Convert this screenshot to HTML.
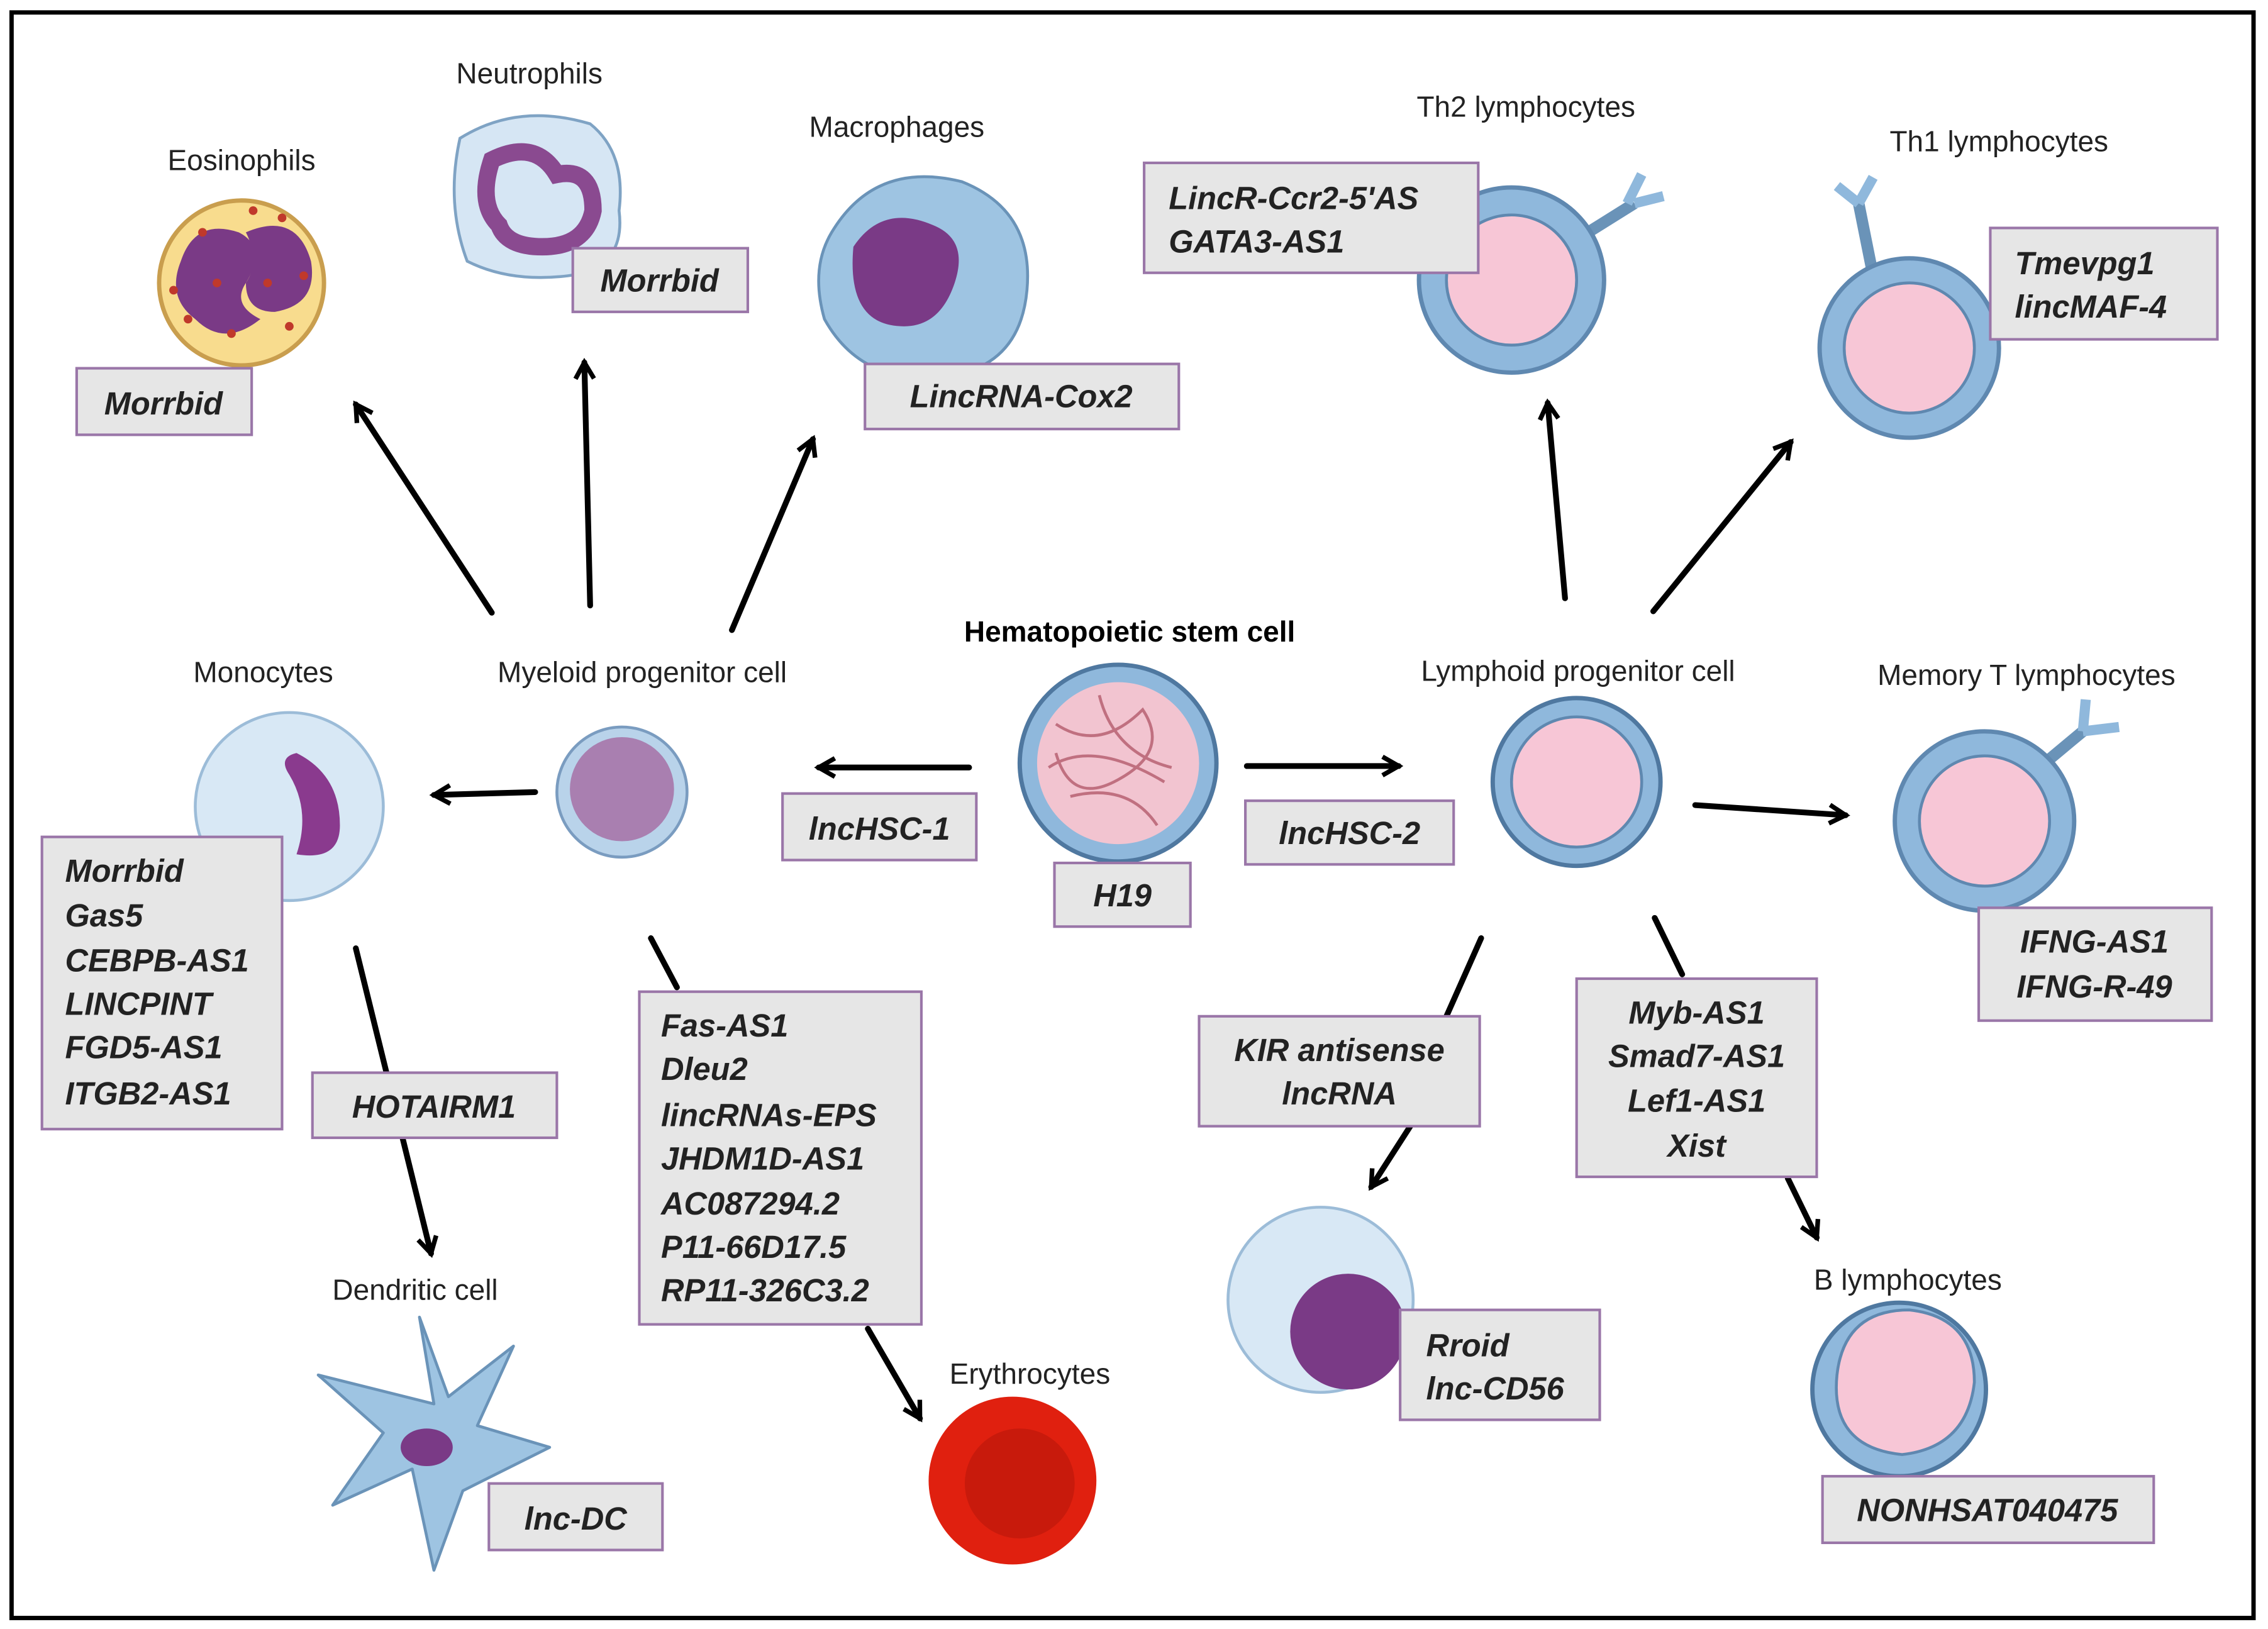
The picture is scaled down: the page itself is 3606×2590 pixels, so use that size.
<!DOCTYPE html>
<html><head><meta charset="utf-8"><style>
html,body{margin:0;padding:0;background:#fff}
svg{display:block}
.l{font-family:"Liberation Sans",sans-serif;font-size:20px;fill:#222;text-anchor:middle}
.b{font-family:"Liberation Sans",sans-serif;font-size:22px;font-weight:bold;font-style:italic;fill:#222}
.bx{fill:#e6e6e6;stroke:#9a76a8;stroke-width:1.8}
.ar{stroke:#000;stroke-width:4;fill:none;stroke-linecap:round}
</style></head><body>
<svg width="3606" height="2590" viewBox="0 0 1568 1125" xmlns="http://www.w3.org/2000/svg">
<defs>
<marker id="m" viewBox="0 0 10 10" refX="8" refY="5" markerWidth="4" markerHeight="4" orient="auto" markerUnits="strokeWidth">
<path d="M1,1 L8,5 L1,9" fill="none" stroke="#000" stroke-width="2"/></marker>
</defs>
<rect x="0" y="0" width="1568" height="1125" fill="#fff"/>
<rect x="8" y="8" width="1550" height="1110" fill="none" stroke="#000" stroke-width="3"/>

<!-- cells -->
<!-- eosinophil -->
<circle cx="167" cy="195" r="57" fill="#f8dc8e" stroke="#c99e4e" stroke-width="3"/>
<path d="M125,180 q10,-30 40,-20 q20,10 5,35 q-10,15 10,25 q-25,20 -45,0 q-20,-15 -10,-40z" fill="#7a3a86"/>
<path d="M170,160 q35,-15 45,20 q5,30 -25,35 q-20,0 -20,-20 q10,-15 0,-35z" fill="#7a3a86"/>
<g fill="#c0392b"><circle cx="140" cy="160" r="3"/><circle cx="195" cy="150" r="3"/><circle cx="130" cy="220" r="3"/><circle cx="160" cy="230" r="3"/><circle cx="200" cy="225" r="3"/><circle cx="185" cy="195" r="3"/><circle cx="150" cy="195" r="3"/><circle cx="120" cy="200" r="3"/><circle cx="210" cy="190" r="3"/><circle cx="175" cy="145" r="3"/></g>
<!-- neutrophil -->
<path d="M318,95 q40,-25 90,-10 q25,20 20,60 q5,40 -35,45 q-40,5 -70,-10 q-15,-40 -5,-85z" fill="#d6e6f4" stroke="#7fa3c4" stroke-width="2"/>
<path d="M340,110 q30,-15 45,10 q25,-5 25,25 q-5,25 -35,25 q-25,0 -30,-15 q-15,-15 -5,-45z" fill="none" stroke="#8a4a90" stroke-width="12" stroke-linecap="round"/>
<!-- macrophage -->
<path d="M575,160 q30,-50 90,-35 q50,20 45,75 q-5,55 -60,60 q-55,5 -80,-40 q-10,-35 5,-60z" fill="#9ec4e2" stroke="#6a93b8" stroke-width="2"/>
<path d="M590,170 q20,-30 55,-15 q25,10 15,40 q-10,30 -35,30 q-40,0 -35,-55z" fill="#7a3a86"/>
<!-- Th2 -->
<line x1="1090" y1="165" x2="1130" y2="140" stroke="#6a93b8" stroke-width="8"/>
<path d="M1125,140 l10,-20 M1130,140 l20,-5" stroke="#8fb8dc" stroke-width="7"/>
<circle cx="1045" cy="193" r="64" fill="#8fb8dc" stroke="#5f88b0" stroke-width="3"/>
<circle cx="1045" cy="193" r="45" fill="#f7c6d6" stroke="#5f88b0" stroke-width="2"/>
<!-- Th1 -->
<line x1="1295" y1="190" x2="1285" y2="140" stroke="#6a93b8" stroke-width="8"/>
<path d="M1285,140 l-15,-12 M1285,140 l10,-18" stroke="#8fb8dc" stroke-width="7"/>
<circle cx="1320" cy="240" r="62" fill="#8fb8dc" stroke="#5f88b0" stroke-width="3"/>
<circle cx="1320" cy="240" r="45" fill="#f7c6d6" stroke="#5f88b0" stroke-width="2"/>
<!-- Monocyte -->
<circle cx="200" cy="557" r="65" fill="#d8e8f5" stroke="#9cbcd8" stroke-width="2"/>
<path d="M205,520 q30,15 30,50 q0,25 -30,20 q10,-30 -5,-55 q-8,-12 5,-15z" fill="#8a3a8e"/>
<!-- myeloid -->
<circle cx="430" cy="547" r="45" fill="#b9d3ea" stroke="#7a9cc0" stroke-width="2"/>
<circle cx="430" cy="545" r="36" fill="#a97fb0"/>
<!-- HSC -->
<circle cx="773" cy="527" r="68" fill="#8fb8dc" stroke="#4f78a0" stroke-width="3"/>
<circle cx="773" cy="527" r="56" fill="#f2c4d0"/>
<path d="M730,500 q30,20 60,-10 q20,30 -20,50 q-30,15 -40,-20 M740,550 q40,-10 60,20 M760,480 q10,40 50,50 M725,530 q30,-20 80,10" stroke="#c07080" stroke-width="2" fill="none"/>
<!-- lymphoid -->
<circle cx="1090" cy="540" r="58" fill="#8fb8dc" stroke="#4f78a0" stroke-width="3"/>
<circle cx="1090" cy="540" r="45" fill="#f7c6d6" stroke="#5f88b0" stroke-width="2"/>
<!-- memory T -->
<line x1="1410" y1="530" x2="1440" y2="505" stroke="#6a93b8" stroke-width="8"/>
<path d="M1440,505 l2,-22 M1440,505 l25,-3" stroke="#8fb8dc" stroke-width="7"/>
<circle cx="1372" cy="567" r="62" fill="#8fb8dc" stroke="#5f88b0" stroke-width="3"/>
<circle cx="1372" cy="567" r="45" fill="#f7c6d6" stroke="#5f88b0" stroke-width="2"/>
<!-- dendritic -->
<path d="M300,970 L220,950 L265,990 L230,1040 L285,1015 L300,1085 L320,1030 L380,1000 L330,985 L355,930 L310,965 L290,910 Z" fill="#9ec4e2" stroke="#6a93b8" stroke-width="2" stroke-linejoin="round"/>
<ellipse cx="295" cy="1000" rx="18" ry="13" fill="#7a3a86"/>
<!-- erythrocyte -->
<circle cx="700" cy="1023" r="58" fill="#e0200f"/>
<circle cx="705" cy="1025" r="38" fill="#c81a0c"/>
<!-- NK -->
<circle cx="913" cy="898" r="64" fill="#d8e8f5" stroke="#9cbcd8" stroke-width="2"/>
<circle cx="932" cy="920" r="40" fill="#7a3a86"/>
<!-- B -->
<circle cx="1313" cy="960" r="60" fill="#8fb8dc" stroke="#4f78a0" stroke-width="3"/>
<path d="M1270,950 q5,-45 50,-45 q45,5 45,50 q-5,45 -50,50 q-50,-5 -45,-55z" fill="#f7c6d6" stroke="#5f88b0" stroke-width="2"/>

<!-- arrows -->
<line class="ar" x1="340" y1="423" x2="246" y2="279" marker-end="url(#m)"/>
<line class="ar" x1="408" y1="418" x2="404" y2="250" marker-end="url(#m)"/>
<line class="ar" x1="506" y1="435" x2="562" y2="303" marker-end="url(#m)"/>
<line class="ar" x1="670" y1="530" x2="566" y2="530" marker-end="url(#m)"/>
<line class="ar" x1="370" y1="547" x2="300" y2="549" marker-end="url(#m)"/>
<line class="ar" x1="862" y1="529" x2="967" y2="529" marker-end="url(#m)"/>
<line class="ar" x1="1082" y1="413" x2="1070" y2="278" marker-end="url(#m)"/>
<line class="ar" x1="1143" y1="422" x2="1238" y2="305" marker-end="url(#m)"/>
<line class="ar" x1="1172" y1="556" x2="1276" y2="563" marker-end="url(#m)"/>
<line class="ar" x1="246" y1="655" x2="298" y2="866" marker-end="url(#m)"/>
<line class="ar" x1="450" y1="648" x2="468" y2="682"/>
<line class="ar" x1="600" y1="918" x2="636" y2="980" marker-end="url(#m)"/>
<line class="ar" x1="1024" y1="648" x2="1000" y2="702"/>
<line class="ar" x1="975" y1="778" x2="948" y2="820" marker-end="url(#m)"/>
<line class="ar" x1="1144" y1="634" x2="1163" y2="673"/>
<line class="ar" x1="1236" y1="814" x2="1256" y2="855" marker-end="url(#m)"/>

<!-- labels -->
<text class="l" x="167" y="117">Eosinophils</text>
<text class="l" x="366" y="57">Neutrophils</text>
<text class="l" x="620" y="94">Macrophages</text>
<text class="l" x="1055" y="80">Th2 lymphocytes</text>
<text class="l" x="1382" y="104">Th1 lymphocytes</text>
<text class="l" x="182" y="471">Monocytes</text>
<text class="l" x="444" y="471">Myeloid progenitor cell</text>
<text class="l" x="781" y="443" style="font-weight:bold;fill:#000">Hematopoietic stem cell</text>
<text class="l" x="1091" y="470">Lymphoid progenitor cell</text>
<text class="l" x="1401" y="473">Memory T lymphocytes</text>
<text class="l" x="287" y="898">Dendritic cell</text>
<text class="l" x="712" y="956">Erythrocytes</text>
<text class="l" x="1319" y="891">B lymphocytes</text>

<!-- boxes -->
<rect class="bx" x="53" y="254" width="121" height="46"/><text class="b" x="113" y="286" text-anchor="middle">Morrbid</text>
<rect class="bx" x="396" y="171" width="121" height="44"/><text class="b" x="456" y="201" text-anchor="middle">Morrbid</text>
<rect class="bx" x="598" y="251" width="217" height="45"/><text class="b" x="706" y="281" text-anchor="middle">LincRNA-Cox2</text>
<rect class="bx" x="791" y="112" width="231" height="76"/><text class="b" x="808" y="144">LincR-Ccr2-5'AS</text><text class="b" x="808" y="174">GATA3-AS1</text>
<rect class="bx" x="1376" y="157" width="157" height="77"/><text class="b" x="1393" y="189">Tmevpg1</text><text class="b" x="1393" y="219">lincMAF-4</text>
<rect class="bx" x="29" y="578" width="166" height="202"/>
<g class="b"><text class="b" x="45" y="609">Morrbid</text><text class="b" x="45" y="640">Gas5</text><text class="b" x="45" y="671">CEBPB-AS1</text><text class="b" x="45" y="701">LINCPINT</text><text class="b" x="45" y="731">FGD5-AS1</text><text class="b" x="45" y="763">ITGB2-AS1</text></g>
<rect class="bx" x="541" y="548" width="134" height="46"/><text class="b" x="608" y="580" text-anchor="middle">lncHSC-1</text>
<rect class="bx" x="729" y="596" width="94" height="44"/><text class="b" x="776" y="626" text-anchor="middle">H19</text>
<rect class="bx" x="861" y="553" width="144" height="44"/><text class="b" x="933" y="583" text-anchor="middle">lncHSC-2</text>
<rect class="bx" x="1368" y="627" width="161" height="78"/><text class="b" x="1448" y="658" text-anchor="middle">IFNG-AS1</text><text class="b" x="1448" y="689" text-anchor="middle">IFNG-R-49</text>
<rect class="bx" x="216" y="741" width="169" height="45"/><text class="b" x="300" y="772" text-anchor="middle">HOTAIRM1</text>
<rect class="bx" x="442" y="685" width="195" height="230"/>
<text class="b" x="457" y="716">Fas-AS1</text><text class="b" x="457" y="746">Dleu2</text><text class="b" x="457" y="778">lincRNAs-EPS</text><text class="b" x="457" y="808">JHDM1D-AS1</text><text class="b" x="457" y="839">AC087294.2</text><text class="b" x="457" y="869">P11-66D17.5</text><text class="b" x="457" y="899">RP11-326C3.2</text>
<rect class="bx" x="829" y="702" width="194" height="76"/><text class="b" x="926" y="733" text-anchor="middle">KIR antisense</text><text class="b" x="926" y="763" text-anchor="middle">lncRNA</text>
<rect class="bx" x="1090" y="676" width="166" height="137"/>
<text class="b" x="1173" y="707" text-anchor="middle">Myb-AS1</text><text class="b" x="1173" y="737" text-anchor="middle">Smad7-AS1</text><text class="b" x="1173" y="768" text-anchor="middle">Lef1-AS1</text><text class="b" x="1173" y="799" text-anchor="middle">Xist</text>
<rect class="bx" x="968" y="905" width="138" height="76"/><text class="b" x="986" y="937">Rroid</text><text class="b" x="986" y="967">lnc-CD56</text>
<rect class="bx" x="338" y="1025" width="120" height="46"/><text class="b" x="398" y="1057" text-anchor="middle">lnc-DC</text>
<rect class="bx" x="1260" y="1020" width="229" height="46"/><text class="b" x="1374" y="1051" text-anchor="middle">NONHSAT040475</text>
</svg>
</body></html>
